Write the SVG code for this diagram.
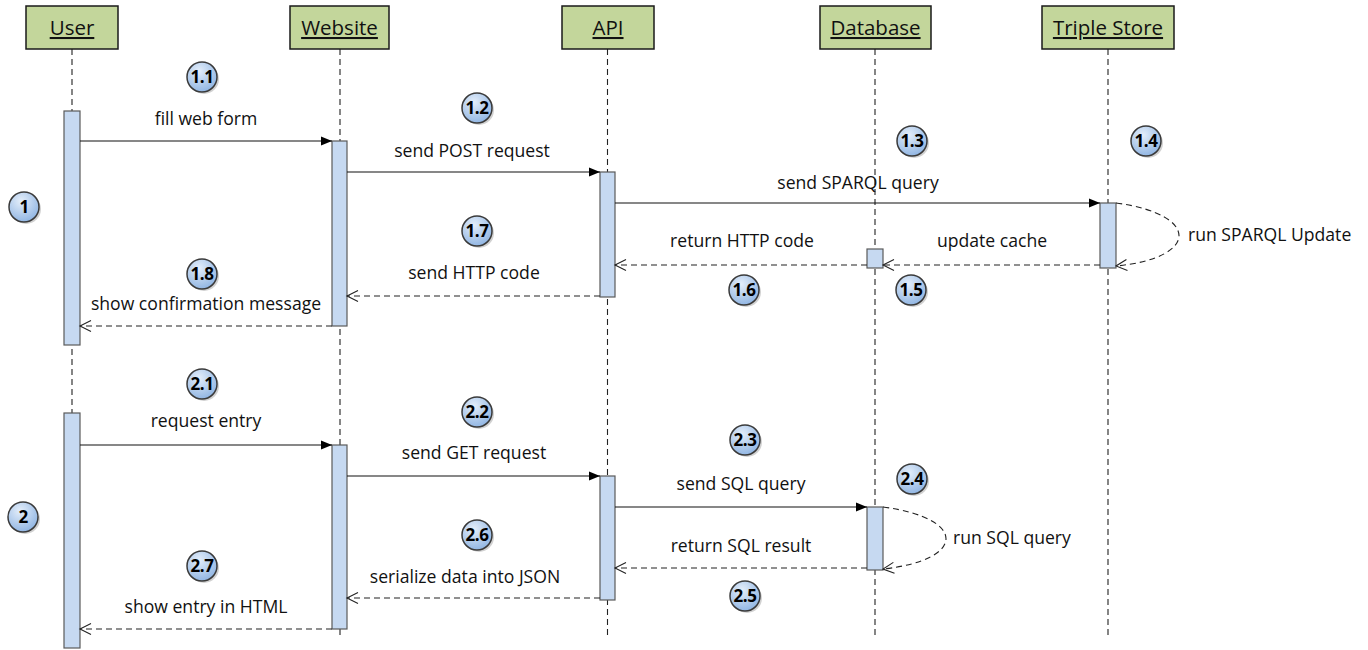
<svg xmlns="http://www.w3.org/2000/svg" width="1368" height="650" viewBox="0 0 1368 650">
<style>
  .hdr rect { fill: #c3d69b; stroke: #1a1a1a; stroke-width: 1.5; }
  .hdr text { font-family: "Open Sans", "Liberation Sans", sans-serif; font-size: 20.5px; fill: #111; text-anchor: middle; text-decoration: underline; }
  .life { stroke: #222; stroke-width: 1.1; stroke-dasharray: 6 4; fill: none; }
  .bar { fill: #c6d9f1; stroke: #5a5a5a; stroke-width: 1.2; }
  .msg { stroke: #111; stroke-width: 1.1; fill: none; }
  .ret { stroke: #222; stroke-width: 1.1; fill: none; stroke-dasharray: 6 4; }
  .lbl { font-family: "Open Sans", "Liberation Sans", sans-serif; font-size: 17.6px; fill: #111; }
  .mid { text-anchor: middle; }
  .badge circle.b { fill: url(#bg); stroke: #3a3a3a; stroke-width: 1.5; }
  .badge circle.s { fill: #9a9a9a; opacity: 0.45; }
  .badge text { font-family: "Open Sans", "Liberation Sans", sans-serif; font-weight: bold; font-size: 17px; fill: #000; text-anchor: middle; letter-spacing: -0.5px; }
</style>
<defs>
  <radialGradient id="bg" cx="0.4" cy="0.3" r="0.75">
    <stop offset="0" stop-color="#e4eefa"/>
    <stop offset="1" stop-color="#8db3e2"/>
  </radialGradient>
  <marker id="solid" markerUnits="userSpaceOnUse" markerWidth="12" markerHeight="10" refX="11" refY="5" orient="auto">
    <path d="M0,0.5 L11,5 L0,9.5 z" fill="#000"/>
  </marker>
  <marker id="openEnd" markerUnits="userSpaceOnUse" markerWidth="14" markerHeight="14" refX="12" refY="6" orient="auto">
    <path d="M1,0.5 L12,6 L1,11.5" fill="none" stroke="#222" stroke-width="1.1"/>
  </marker>
</defs>
<rect width="1368" height="650" fill="#fff"/>

<g id="lifelines">
  <line class="life" x1="72" y1="49" x2="72" y2="648"/>
  <line class="life" x1="340" y1="49" x2="340" y2="636"/>
  <line class="life" x1="607.5" y1="49" x2="607.5" y2="636"/>
  <line class="life" x1="875" y1="49" x2="875" y2="636"/>
  <line class="life" x1="1108" y1="49" x2="1108" y2="636"/>
</g>

<g id="user">
  <g class="hdr"><rect x="26" y="6" width="92" height="43"/><text x="72" y="35">User</text></g>
  <rect class="bar" x="64" y="111" width="16" height="234"/>
  <rect class="bar" x="64" y="413" width="16" height="235"/>
</g>
<g id="website">
  <g class="hdr"><rect x="290" y="6" width="99" height="43"/><text x="339.5" y="35">Website</text></g>
  <rect class="bar" x="332" y="141" width="15" height="185"/>
  <rect class="bar" x="332" y="445" width="15" height="184"/>
</g>
<g id="api">
  <g class="hdr"><rect x="562" y="6" width="92" height="43"/><text x="608" y="35">API</text></g>
  <rect class="bar" x="600" y="172" width="15" height="125"/>
  <rect class="bar" x="600" y="476" width="15" height="124"/>
</g>
<g id="database">
  <g class="hdr"><rect x="820" y="6" width="111" height="43"/><text x="875.5" y="35">Database</text></g>
  <rect class="bar" x="867" y="249" width="16" height="19"/>
  <rect class="bar" x="867" y="507" width="16" height="63"/>
</g>
<g id="triplestore">
  <g class="hdr"><rect x="1042" y="6" width="132" height="43"/><text x="1108" y="35">Triple Store</text></g>
  <rect class="bar" x="1100" y="203" width="16" height="65"/>
</g>

<g id="connectors">
  <line class="msg" x1="80" y1="141" x2="332" y2="141" marker-end="url(#solid)"/>
  <line class="msg" x1="347" y1="172" x2="600" y2="172" marker-end="url(#solid)"/>
  <line class="msg" x1="615" y1="203" x2="1100" y2="203" marker-end="url(#solid)"/>
  <path class="ret" d="M1116,203 C1200,214 1200,258 1116,266" marker-end="url(#openEnd)"/>
  <line class="ret" x1="1100" y1="265" x2="883" y2="265" marker-end="url(#openEnd)"/>
  <line class="ret" x1="867" y1="265" x2="615" y2="265" marker-end="url(#openEnd)"/>
  <line class="ret" x1="600" y1="296" x2="347" y2="296" marker-end="url(#openEnd)"/>
  <line class="ret" x1="332" y1="326" x2="80" y2="326" marker-end="url(#openEnd)"/>

  <line class="msg" x1="80" y1="445" x2="332" y2="445" marker-end="url(#solid)"/>
  <line class="msg" x1="347" y1="476" x2="600" y2="476" marker-end="url(#solid)"/>
  <line class="msg" x1="615" y1="507" x2="867" y2="507" marker-end="url(#solid)"/>
  <path class="ret" d="M883,507 C967,518 967,560 883,569" marker-end="url(#openEnd)"/>
  <line class="ret" x1="867" y1="568" x2="615" y2="568" marker-end="url(#openEnd)"/>
  <line class="ret" x1="600" y1="598" x2="347" y2="598" marker-end="url(#openEnd)"/>
  <line class="ret" x1="332" y1="629" x2="80" y2="629" marker-end="url(#openEnd)"/>
</g>

<g id="labels">
  <text class="lbl mid" x="206" y="125">fill web form</text>
  <text class="lbl mid" x="472" y="157">send POST request</text>
  <text class="lbl mid" x="858" y="189">send SPARQL query</text>
  <text class="lbl" x="1188" y="241">run SPARQL Update</text>
  <text class="lbl mid" x="992" y="247">update cache</text>
  <text class="lbl mid" x="742" y="247">return HTTP code</text>
  <text class="lbl mid" x="474" y="279">send HTTP code</text>
  <text class="lbl mid" x="206" y="310">show confirmation message</text>

  <text class="lbl mid" x="206" y="427">request entry</text>
  <text class="lbl mid" x="474" y="459">send GET request</text>
  <text class="lbl mid" x="741" y="490">send SQL query</text>
  <text class="lbl" x="953" y="544">run SQL query</text>
  <text class="lbl mid" x="741" y="552">return SQL result</text>
  <text class="lbl mid" x="465" y="583">serialize data into JSON</text>
  <text class="lbl mid" x="206" y="613">show entry in HTML</text>
</g>

<g id="badges">
  <g class="badge" id="b1"><circle class="s" cx="26" cy="209" r="15"/><circle class="b" cx="24" cy="207" r="15"/><text x="24" y="213">1</text></g>
  <g class="badge" id="b11"><circle class="s" cx="204" cy="79" r="15"/><circle class="b" cx="202" cy="77" r="15"/><text x="202" y="83">1.1</text></g>
  <g class="badge" id="b12"><circle class="s" cx="479" cy="110" r="15"/><circle class="b" cx="477" cy="108" r="15"/><text x="477" y="114">1.2</text></g>
  <g class="badge" id="b13"><circle class="s" cx="914" cy="143" r="15"/><circle class="b" cx="912" cy="141" r="15"/><text x="912" y="147">1.3</text></g>
  <g class="badge" id="b14"><circle class="s" cx="1148" cy="143" r="15"/><circle class="b" cx="1146" cy="141" r="15"/><text x="1146" y="147">1.4</text></g>
  <g class="badge" id="b15"><circle class="s" cx="913" cy="292" r="15"/><circle class="b" cx="911" cy="290" r="15"/><text x="911" y="296">1.5</text></g>
  <g class="badge" id="b16"><circle class="s" cx="746" cy="292" r="15"/><circle class="b" cx="744" cy="290" r="15"/><text x="744" y="296">1.6</text></g>
  <g class="badge" id="b17"><circle class="s" cx="479" cy="233" r="15"/><circle class="b" cx="477" cy="231" r="15"/><text x="477" y="237">1.7</text></g>
  <g class="badge" id="b18"><circle class="s" cx="204" cy="276" r="15"/><circle class="b" cx="202" cy="274" r="15"/><text x="202" y="280">1.8</text></g>

  <g class="badge" id="b2"><circle class="s" cx="25" cy="519" r="15"/><circle class="b" cx="23" cy="517" r="15"/><text x="23" y="523">2</text></g>
  <g class="badge" id="b21"><circle class="s" cx="204" cy="386" r="15"/><circle class="b" cx="202" cy="384" r="15"/><text x="202" y="390">2.1</text></g>
  <g class="badge" id="b22"><circle class="s" cx="479" cy="414" r="15"/><circle class="b" cx="477" cy="412" r="15"/><text x="477" y="418">2.2</text></g>
  <g class="badge" id="b23"><circle class="s" cx="747" cy="442" r="15"/><circle class="b" cx="745" cy="440" r="15"/><text x="745" y="446">2.3</text></g>
  <g class="badge" id="b24"><circle class="s" cx="914" cy="481" r="15"/><circle class="b" cx="912" cy="479" r="15"/><text x="912" y="485">2.4</text></g>
  <g class="badge" id="b25"><circle class="s" cx="747" cy="598" r="15"/><circle class="b" cx="745" cy="596" r="15"/><text x="745" y="602">2.5</text></g>
  <g class="badge" id="b26"><circle class="s" cx="479" cy="537" r="15"/><circle class="b" cx="477" cy="535" r="15"/><text x="477" y="541">2.6</text></g>
  <g class="badge" id="b27"><circle class="s" cx="204" cy="568" r="15"/><circle class="b" cx="202" cy="566" r="15"/><text x="202" y="572">2.7</text></g>
</g>
</svg>
